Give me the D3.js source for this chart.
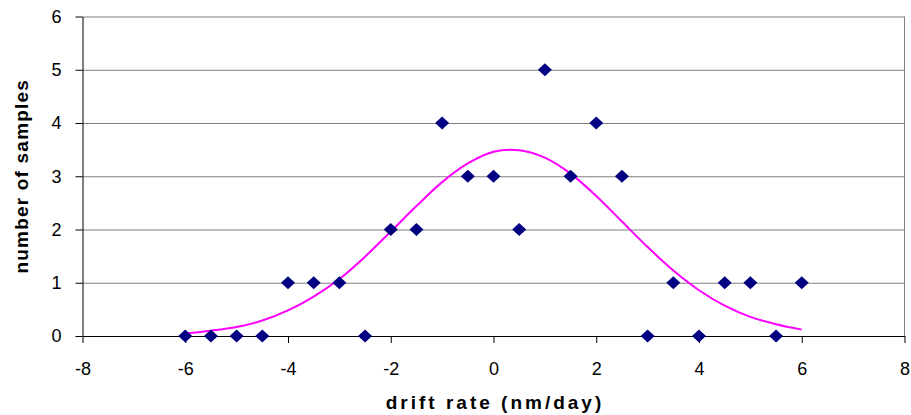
<!DOCTYPE html>
<html>
<head>
<meta charset="utf-8">
<script src="https://cdn.jsdelivr.net/npm/d3@7"></script>
<style>
  body { margin: 0; background: #fff; }
  svg { display: block; font-family: Arial, "Liberation Sans", sans-serif; }
</style>
</head>
<body>
<script>
// measured samples: drift rate vs count
const driftRates = [-6, -5.5, -5, -4.5, -4, -3.5, -3, -2.5, -2, -1.5, -1, -0.5, 0, 0.5, 1, 1.5, 2, 2.5, 3, 3.5, 4, 4.5, 5, 5.5, 6];
const sampleCounts = [0, 0, 0, 0, 1, 1, 1, 0, 2, 2, 4, 3, 3, 2, 5, 3, 4, 3, 0, 1, 0, 1, 1, 0, 1];

// fitted curve
const curveX = [-6, -5.5, -5, -4.5, -4, -3.5, -3, -2.5, -2, -1.5, -1, -0.5, 0, 0.5, 1, 1.5, 2, 2.5, 3, 3.5, 4, 4.5, 5, 5.5, 6];
const curveY = [0.05, 0.10, 0.17, 0.29, 0.48, 0.74, 1.07, 1.49, 1.96, 2.44, 2.89, 3.24, 3.46, 3.49, 3.35, 3.05, 2.63, 2.15, 1.67, 1.23, 0.86, 0.57, 0.36, 0.22, 0.12];

const xTicks = [-8, -6, -4, -2, 0, 2, 4, 6, 8];
const yTicks = [0, 1, 2, 3, 4, 5, 6];

const W = 911, H = 415;
const plotL = 82.5, plotR = 904.5, plotT = 16.5, plotB = 336;
const font = "Arial, 'Liberation Sans', sans-serif";

const svg = d3.select("body").append("svg")
    .attr("width", W)
    .attr("height", H);

const x = d3.scaleLinear().domain([-8, 8]).range([plotL, plotR]);
const y = d3.scaleLinear().domain([0, 6]).range([plotB, plotT]);

const fmt = d => String(d);

// horizontal grid
svg.append("g")
    .attr("transform", `translate(${plotL},0)`)
    .call(d3.axisLeft(y).tickValues(yTicks.slice(1)).tickSize(-(plotR - plotL)).tickFormat(""))
    .call(g => g.select(".domain").remove())
    .call(g => g.selectAll("line").attr("stroke", "#808080"));

// right border
svg.append("line")
    .attr("x1", plotR).attr("x2", plotR)
    .attr("y1", plotT).attr("y2", plotB)
    .attr("stroke", "#808080");

// y axis
svg.append("g")
    .attr("transform", `translate(${plotL},0)`)
    .call(d3.axisLeft(y).tickValues(yTicks).tickFormat(fmt).tickSize(7).tickPadding(14).tickSizeOuter(0))
    .attr("font-size", 18)
    .attr("font-family", font)
    .call(g => g.selectAll("text").attr("fill", "#000"))
    .call(g => g.selectAll("line, path").attr("stroke", "#000"));

// x axis
svg.append("g")
    .attr("transform", `translate(0,${plotB})`)
    .call(d3.axisBottom(x).tickValues(xTicks).tickFormat(fmt).tickSize(7).tickPadding(19).tickSizeOuter(0))
    .attr("font-size", 18)
    .attr("font-family", font)
    .call(g => g.selectAll("text").attr("fill", "#000"))
    .call(g => g.selectAll("line, path").attr("stroke", "#000"));

// fitted curve
const line = d3.line()
    .x((d, i) => x(curveX[i]))
    .y(d => y(d))
    .curve(d3.curveCatmullRom);

svg.append("path")
    .datum(curveY)
    .attr("d", line)
    .attr("fill", "none")
    .attr("stroke", "#ff00ff")
    .attr("stroke-width", 2);

// diamond markers
const dw = 7, dh = 6.5;
svg.append("g")
    .selectAll("path")
    .data(sampleCounts)
    .join("path")
    .attr("transform", (d, i) => `translate(${x(driftRates[i])},${y(d)})`)
    .attr("d", `M0,${-dh}L${dw},0L0,${dh}L${-dw},0Z`)
    .attr("fill", "#000080");

// axis titles
svg.append("text")
    .attr("x", (plotL + plotR) / 2 + 1.5)
    .attr("y", 409)
    .attr("text-anchor", "middle")
    .attr("font-size", 19)
    .attr("font-weight", "bold")
    .attr("letter-spacing", 3)
    .text("drift rate (nm/day)");

svg.append("text")
    .attr("transform", `translate(27.5,${(plotT + plotB) / 2}) rotate(-90)`)
    .attr("text-anchor", "middle")
    .attr("font-size", 19)
    .attr("font-weight", "bold")
    .attr("letter-spacing", 1.2)
    .text("number of samples");
</script>
</body>
</html>
